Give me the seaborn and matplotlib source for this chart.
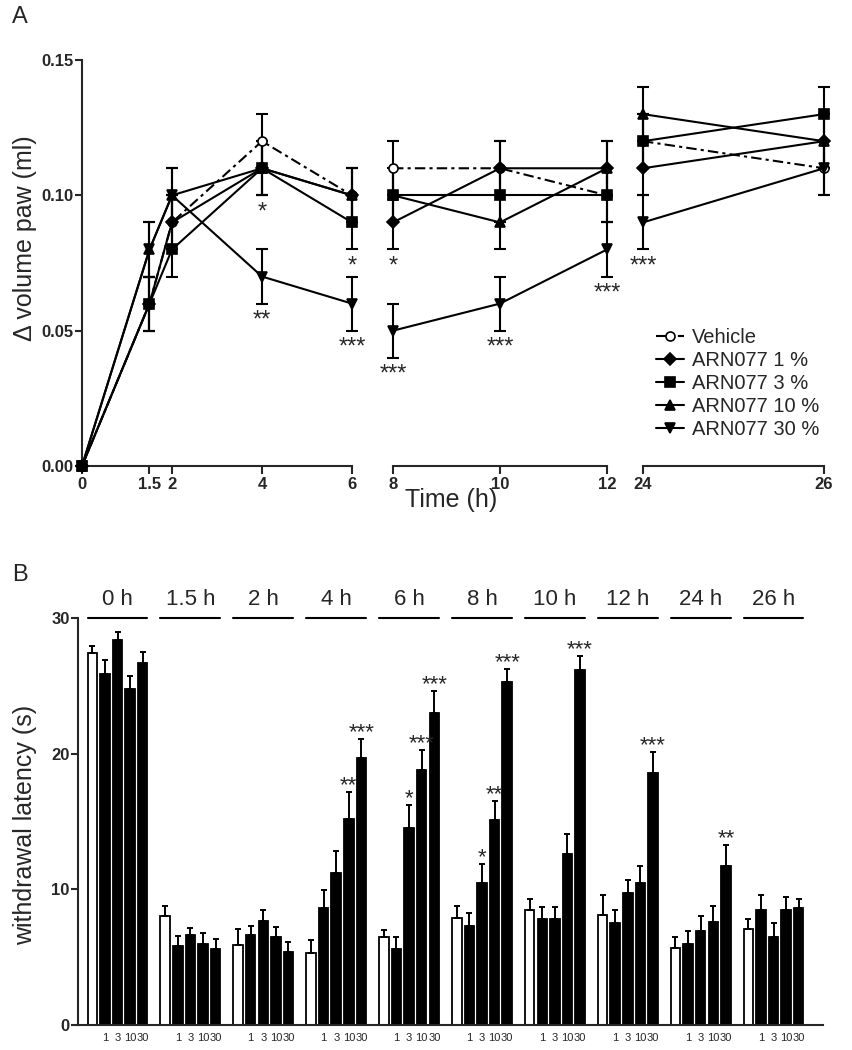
import numpy as np
import pandas as pd
import matplotlib
matplotlib.use('Agg')
import matplotlib.pyplot as plt
import seaborn as sns

# ---- panel A: paw volume over time ----
hours = [0, 1.5, 2, 4, 6, 8, 10, 12, 24, 26]
vol_vehicle = [0, 0.06, 0.09, 0.12, 0.10, 0.11, 0.11, 0.10, 0.12, 0.11]
vol_1 = [0, 0.06, 0.09, 0.11, 0.10, 0.09, 0.11, 0.11, 0.11, 0.12]
vol_3 = [0, 0.06, 0.08, 0.11, 0.09, 0.10, 0.10, 0.10, 0.12, 0.13]
vol_10 = [0, 0.08, 0.10, 0.11, 0.10, 0.10, 0.09, 0.11, 0.13, 0.12]
vol_30 = [0, 0.08, 0.10, 0.07, 0.06, 0.05, 0.06, 0.08, 0.09, 0.11]
vol_err = [0, 0.01, 0.01, 0.01, 0.01, 0.01, 0.01, 0.01, 0.01, 0.01]

groups_a = ['Vehicle', 'ARN077 1 %', 'ARN077 3 %', 'ARN077 10 %', 'ARN077 30 %']
hour_segments = [(0, 6), (8, 12), (24, 26)]
hour_ticks = [[0, 1.5, 2, 4, 6], [8, 10, 12], [24, 26]]

stars_a = [('ARN077 3 %', 4, '*'), ('ARN077 30 %', 4, '**'),
           ('ARN077 3 %', 6, '*'), ('ARN077 30 %', 6, '***'),
           ('ARN077 1 %', 8, '*'), ('ARN077 30 %', 8, '***'),
           ('ARN077 30 %', 10, '***'), ('ARN077 30 %', 12, '***'),
           ('ARN077 30 %', 24, '***')]

# ---- panel B: withdrawal latency ----
times_b = ['0 h', '1.5 h', '2 h', '4 h', '6 h', '8 h', '10 h', '12 h', '24 h', '26 h']
doses = ['Vehicle', '1', '3', '10', '30']
lat_vehicle = [27.4, 8.0, 5.9, 5.3, 6.5, 7.9, 8.5, 8.1, 5.7, 7.1]
lat_1 = [25.9, 5.8, 6.6, 8.6, 5.6, 7.3, 7.8, 7.5, 6.0, 8.5]
lat_3 = [28.4, 6.6, 7.7, 11.2, 14.5, 10.5, 7.8, 9.7, 6.9, 6.5]
lat_10 = [24.8, 6.0, 6.5, 15.2, 18.8, 15.1, 12.6, 10.5, 7.6, 8.5]
lat_30 = [26.7, 5.6, 5.4, 19.7, 23.0, 25.3, 26.2, 18.6, 11.7, 8.65]
err_vehicle = [0.5, 0.8, 1.15, 1.0, 0.5, 0.9, 0.8, 1.5, 0.8, 0.7]
err_1 = [1.0, 0.75, 0.7, 1.35, 0.9, 0.95, 0.9, 1.0, 0.9, 1.05]
err_3 = [0.6, 0.55, 0.8, 1.6, 1.7, 1.4, 0.9, 1.0, 1.15, 1.0]
err_10 = [0.9, 0.8, 0.7, 2.0, 1.45, 1.4, 1.5, 1.2, 1.2, 0.95]
err_30 = [0.8, 0.75, 0.7, 1.4, 1.6, 0.95, 1.0, 1.55, 1.55, 0.65]

stars_b = [('4 h', '10', '**'), ('4 h', '30', '***'),
           ('6 h', '3', '*'), ('6 h', '10', '***'), ('6 h', '30', '***'),
           ('8 h', '3', '*'), ('8 h', '10', '**'), ('8 h', '30', '***'),
           ('10 h', '30', '***'), ('12 h', '30', '***'), ('24 h', '30', '**')]

# long tables
vols = [vol_vehicle, vol_1, vol_3, vol_10, vol_30]
dfA = pd.concat([pd.DataFrame({'hour': hours, 'vol': v, 'err': vol_err, 'group': g})
                 for g, v in zip(groups_a, vols)], ignore_index=True)
lats = [lat_vehicle, lat_1, lat_3, lat_10, lat_30]
errs = [err_vehicle, err_1, err_3, err_10, err_30]
dfB = pd.concat([pd.DataFrame({'time': times_b, 'lat': l, 'err': e, 'dose': d})
                 for d, l, e in zip(doses, lats, errs)], ignore_index=True)

sns.set_theme(style='ticks')
plt.rcParams['font.family'] = ['Liberation Sans', 'DejaVu Sans']
plt.rcParams['axes.linewidth'] = 1.5
plt.rcParams['xtick.major.width'] = 1.5
plt.rcParams['ytick.major.width'] = 1.5

fig = plt.figure(figsize=(8.53, 10.5), dpi=100)
W, H = 853, 1050

def px_axes(x0, x1, y_top, y_bot):
    return fig.add_axes([x0 / W, 1 - y_bot / H, (x1 - x0) / W, (y_bot - y_top) / H])

styles = {
    'Vehicle': dict(marker='o', markerfacecolor='white', linestyle=(0, (5, 2, 1.5, 2)), markersize=6.5),
    'ARN077 1 %': dict(marker='D', markerfacecolor='black', linestyle='-', markersize=6.5),
    'ARN077 3 %': dict(marker='s', markerfacecolor='black', linestyle='-', markersize=7.5),
    'ARN077 10 %': dict(marker='^', markerfacecolor='black', linestyle='-', markersize=7.5),
    'ARN077 30 %': dict(marker='v', markerfacecolor='black', linestyle='-', markersize=7.5),
}

seg_px = [(82, 352), (393, 607), (643, 824)]
axesA = []
for i, ((lo, hi), (x0, x1)) in enumerate(zip(hour_segments, seg_px)):
    ax = px_axes(x0, x1, 60, 466)
    sub = dfA[(dfA.hour >= lo) & (dfA.hour <= hi)]
    for g in groups_a:
        sg = sub[sub.group == g]
        se = sg[sg.err > 0]
        ax.errorbar(se.hour, se.vol, yerr=se.err, fmt='none', ecolor='black',
                    elinewidth=1.5, capsize=4, capthick=1.5, clip_on=False, zorder=2)
        sns.lineplot(data=sg, x='hour', y='vol', ax=ax, color='black', linewidth=1.5,
                     markeredgecolor='black', markeredgewidth=1.2, errorbar=None,
                     clip_on=False, zorder=3, label=g if i == 0 else None, **styles[g])
    for g, h, s in stars_a:
        if lo <= h <= hi:
            row = dfA[(dfA.group == g) & (dfA.hour == h)].iloc[0]
            ax.text(h, row.vol - row.err - 0.0085, s, ha='center', va='baseline', fontsize=17)
    ax.set_xlim(lo, hi)
    ax.set_ylim(0, 0.15)
    ax.set_xticks(hour_ticks[i])
    ax.set_xticklabels([f'{t:g}' for t in hour_ticks[i]], fontsize=12, fontweight='bold')
    ax.tick_params(axis='x', length=6, pad=2)
    ax.set_xlabel('')
    ax.set_ylabel('')
    if ax.get_legend() is not None:
        ax.get_legend().remove()
    sns.despine(ax=ax, left=(i > 0))
    if i == 0:
        ax.set_yticks([0, 0.05, 0.10, 0.15])
        ax.set_yticklabels(['0.00', '0.05', '0.10', '0.15'], fontsize=12, fontweight='bold')
        ax.tick_params(axis='y', length=5, pad=1)
    else:
        ax.set_yticks([])
    ax.patch.set_alpha(0)
    axesA.append(ax)

handles, labels = axesA[0].get_legend_handles_labels()
fig.legend(handles, labels, loc='upper left', bbox_to_anchor=(648 / W, 1 - 320 / H),
           frameon=False, fontsize=14.5, handlelength=1.4, handletextpad=0.4,
           labelspacing=0.2, borderaxespad=0)

fig.text(451 / W, 1 - 500 / H, 'Time (h)', ha='center', va='center', fontsize=18)
fig.text(25 / W, 1 - 238 / H, 'Δ volume paw (ml)', ha='center', va='center',
         rotation=90, fontsize=18)
fig.text(12 / W, 1 - 17 / H, 'A', ha='left', va='center', fontsize=17)

# ---- panel B ----
axB = px_axes(78, 823, 618, 1025)
sns.barplot(data=dfB, x='time', y='lat', hue='dose', order=times_b, hue_order=doses,
            palette=['white'] + ['black'] * 4, saturation=1, edgecolor='black',
            linewidth=1.3, width=0.864, gap=0.25, errorbar=None, legend=False, ax=axB)

centers, tick_labels = [], []
bar_pos = {}
for d, cont in zip(doses, axB.containers):
    bars = sorted(cont.patches, key=lambda b: b.get_x())
    for t, b in zip(times_b, bars):
        cx = b.get_x() + b.get_width() / 2
        bar_pos[(t, d)] = (cx, b.get_x(), b.get_x() + b.get_width())
        centers.append(cx)
        tick_labels.append('' if d == 'Vehicle' else d)

for _, row in dfB.iterrows():
    cx = bar_pos[(row.time, row.dose)][0]
    axB.errorbar(cx, row.lat, yerr=[[0], [row.err]], fmt='none', ecolor='black',
                 elinewidth=1.4, capsize=2.5, capthick=1.4, zorder=3)

for t, d, s in stars_b:
    row = dfB[(dfB.time == t) & (dfB.dose == d)].iloc[0]
    axB.text(bar_pos[(t, d)][0], row.lat + row.err + 0.05, s, ha='center',
             va='baseline', fontsize=16)

for t in times_b:
    left = bar_pos[(t, doses[0])][1]
    right = bar_pos[(t, doses[-1])][2]
    axB.plot([left, right], [30, 30], color='black', lw=1.5, clip_on=False)
    axB.text((left + right) / 2, 31.35, t, ha='center', va='center', fontsize=16)

axB.set_xticks(centers)
axB.set_xticklabels(tick_labels, fontsize=8)
axB.tick_params(axis='x', length=0, pad=6)
axB.set_xlim(-0.542, 9.678)
axB.set_ylim(0, 30)
axB.set_yticks([0, 10, 20, 30])
axB.set_yticklabels(['0', '10', '20', '30'], fontsize=12, fontweight='bold')
axB.tick_params(axis='y', length=5, pad=1)
axB.set_xlabel('')
axB.set_ylabel('')
sns.despine(ax=axB)

fig.text(25 / W, 1 - 825 / H, 'withdrawal latency (s)', ha='center', va='center',
         rotation=90, fontsize=18)
fig.text(12 / W, 1 - 575 / H, 'B', ha='left', va='center', fontsize=17)

fig.savefig('out.png', dpi=100)
